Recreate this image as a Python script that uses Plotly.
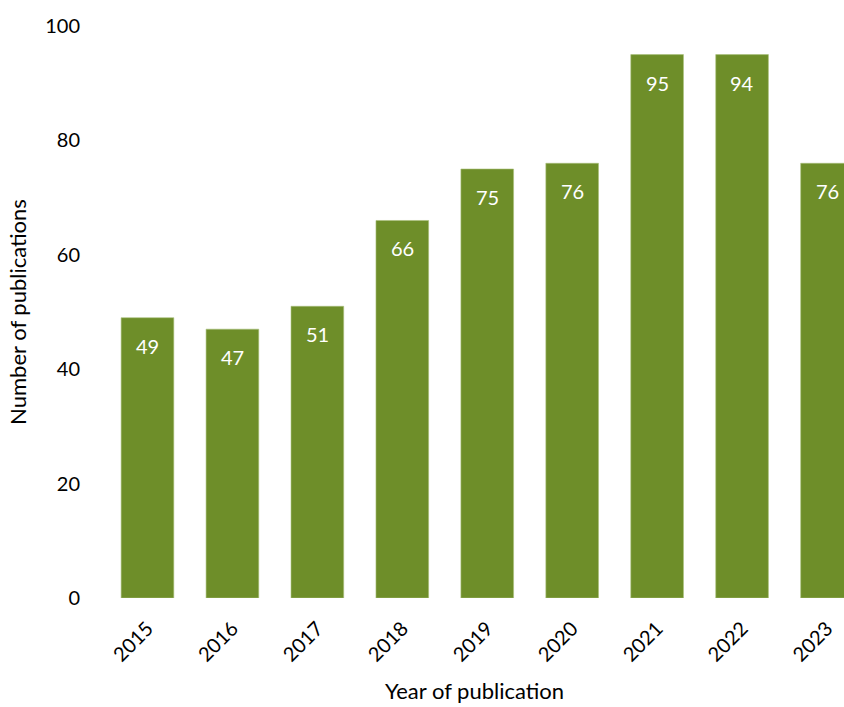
import plotly.graph_objects as go

years = ["2015", "2016", "2017", "2018", "2019", "2020", "2021", "2022", "2023"]
bar_heights = [49, 47, 51, 66, 75, 76, 95, 95, 76]
value_labels = ["49", "47", "51", "66", "75", "76", "95", "94", "76"]
y_ticks = [0, 20, 40, 60, 80, 100]

GREEN = "#6E8E29"
FONT = "Lato"

fig = go.Figure(
    go.Bar(
        x=years,
        y=bar_heights,
        marker=dict(color=GREEN, line=dict(width=0.6, color="#A9C07A")),
        hoverinfo="x+y",
    )
)

annotations = [
    dict(
        x=i, y=h, xref="x", yref="y", text=lab, showarrow=False, yshift=-28,
        font=dict(family=FONT, size=20, color="white"),
    )
    for i, (h, lab) in enumerate(zip(bar_heights, value_labels))
]

fig.update_layout(
    width=844, height=707,
    margin=dict(l=104.5, r=0, t=26, b=109),
    paper_bgcolor="white", plot_bgcolor="white",
    bargap=0.38,
    showlegend=False,
    annotations=annotations,
    font=dict(family=FONT, size=20, color="#000"),
    xaxis=dict(
        type="category",
        range=[-0.5, 8.2],
        tickangle=-45,
        showgrid=False, showline=False, zeroline=False,
        ticks="outside", ticklen=10, tickcolor="rgba(0,0,0,0)",
        tickfont=dict(family=FONT, size=20),
        title=dict(text="Year of publication", font=dict(family=FONT, size=22), standoff=18),
    ),
    yaxis=dict(
        range=[0, 100],
        tickvals=y_ticks,
        showgrid=False, showline=False, zeroline=False,
        ticks="outside", ticklen=20, tickcolor="rgba(0,0,0,0)",
        tickfont=dict(family=FONT, size=20),
        title=dict(text="Number of publications", font=dict(family=FONT, size=22), standoff=12),
    ),
)

fig.write_html("out.html")
